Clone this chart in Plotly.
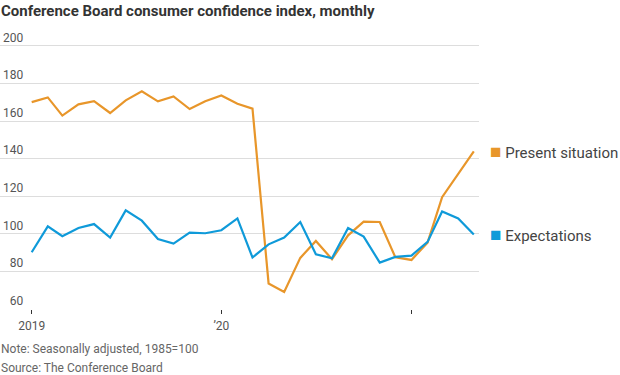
import plotly.graph_objects as go

months = [
    "2019-01-01", "2019-02-01", "2019-03-01", "2019-04-01", "2019-05-01", "2019-06-01",
    "2019-07-01", "2019-08-01", "2019-09-01", "2019-10-01", "2019-11-01", "2019-12-01",
    "2020-01-01", "2020-02-01", "2020-03-01", "2020-04-01", "2020-05-01", "2020-06-01",
    "2020-07-01", "2020-08-01", "2020-09-01", "2020-10-01", "2020-11-01", "2020-12-01",
    "2021-01-01", "2021-02-01", "2021-03-01", "2021-04-01", "2021-05-01",
]
present_situation = [
    170.1, 172.6, 162.9, 168.9, 170.6, 164.3, 171.0, 175.8, 170.5, 173.1, 166.4, 170.6,
    173.6, 169.2, 166.6, 73.6, 69.1, 87.2, 96.2, 86.5, 99.2, 106.5, 106.3, 87.5,
    86.1, 95.3, 119.5, 132.1, 143.9,
]
expectations = [
    90.2, 104.0, 98.7, 103.1, 105.2, 98.0, 112.5, 107.0, 97.2, 94.8, 100.6, 100.3,
    101.9, 108.2, 87.4, 94.4, 98.0, 106.3, 89.1, 87.0, 103.1, 98.5, 84.7, 87.7,
    88.4, 95.7, 111.9, 108.2, 99.7,
]
y_ticks = [60, 80, 100, 120, 140, 160, 180, 200]
y_tick_text = ["\u200760", "\u200780", "100", "120", "140", "160", "180", "200"]
x_ticks = ["2019-01-01", "2020-01-01", "2021-01-01"]
x_tick_text = ["2019", "\u201920", ""]

ORANGE = "#e8962a"
BLUE = "#0f9ad9"
FONT = "Roboto"

PX_PER_UNIT = (309.5 - 46) / 140.0
Y_TOP = 209
TOP_MARGIN = 46 - (Y_TOP - 200) * PX_PER_UNIT

fig = go.Figure()
fig.add_trace(go.Scatter(x=months, y=present_situation, mode="lines",
                         line=dict(color=ORANGE, width=2.2), name="Present situation"))
fig.add_trace(go.Scatter(x=months, y=expectations, mode="lines",
                         line=dict(color=BLUE, width=2.2), name="Expectations"))

fig.update_layout(
    width=620, height=375,
    margin=dict(l=0, r=141, t=TOP_MARGIN, b=65.5, autoexpand=False),
    paper_bgcolor="white", plot_bgcolor="white",
    showlegend=False,
    font=dict(family=FONT, size=12, color="#555"),
    xaxis=dict(
        type="date", automargin=False,
        range=["2018-11-01", "2021-05-11"],
        tickvals=x_ticks, ticktext=x_tick_text,
        ticks="outside", ticklen=4, tickcolor="#333", tickwidth=1,
        ticklabelstandoff=2,
        showgrid=False, showline=False, zeroline=False,
        tickfont=dict(family=FONT, size=12, color="#555"),
    ),
    yaxis=dict(
        range=[60, Y_TOP], automargin=False,
        tickvals=y_ticks, ticktext=y_tick_text,
        ticklabelposition="inside top",
        showgrid=True, gridcolor="#dddddd", gridwidth=1,
        zeroline=False, showline=False, ticks="",
        tickfont=dict(family=FONT, size=12, color="#555"),
    ),
)

fig.add_annotation(
    xref="paper", x=0, xanchor="left", xshift=-1,
    yref="paper", y=1, yanchor="middle", yshift=TOP_MARGIN - 11,
    text="<b>Conference Board consumer confidence index, monthly</b>",
    showarrow=False, font=dict(family=FONT, size=15, color="#333"),
)

legend_items = [("Present situation", ORANGE, present_situation[-1]),
                ("Expectations", BLUE, expectations[-1])]
for label, color, yv in legend_items:
    fig.add_annotation(
        xref="paper", x=1.0, xshift=9, xanchor="left",
        yref="y", y=yv, yanchor="middle",
        text=f"<span style='color:{color};font-size:19px'>■</span> {label}",
        showarrow=False, font=dict(family=FONT, size=15, color="#444"),
    )

notes = ["Note: Seasonally adjusted, 1985=100", "Source: The Conference Board"]
for i, t in enumerate(notes):
    fig.add_annotation(
        xref="paper", x=0, xanchor="left", xshift=-1,
        yref="paper", y=0, yanchor="middle", yshift=-(349 - 309.5) - i * 19,
        text=t, showarrow=False, font=dict(family=FONT, size=12, color="#666"),
    )

fig.write_html("out.html", config={"displayModeBar": False},
               post_script="document.body.style.margin='0';")
